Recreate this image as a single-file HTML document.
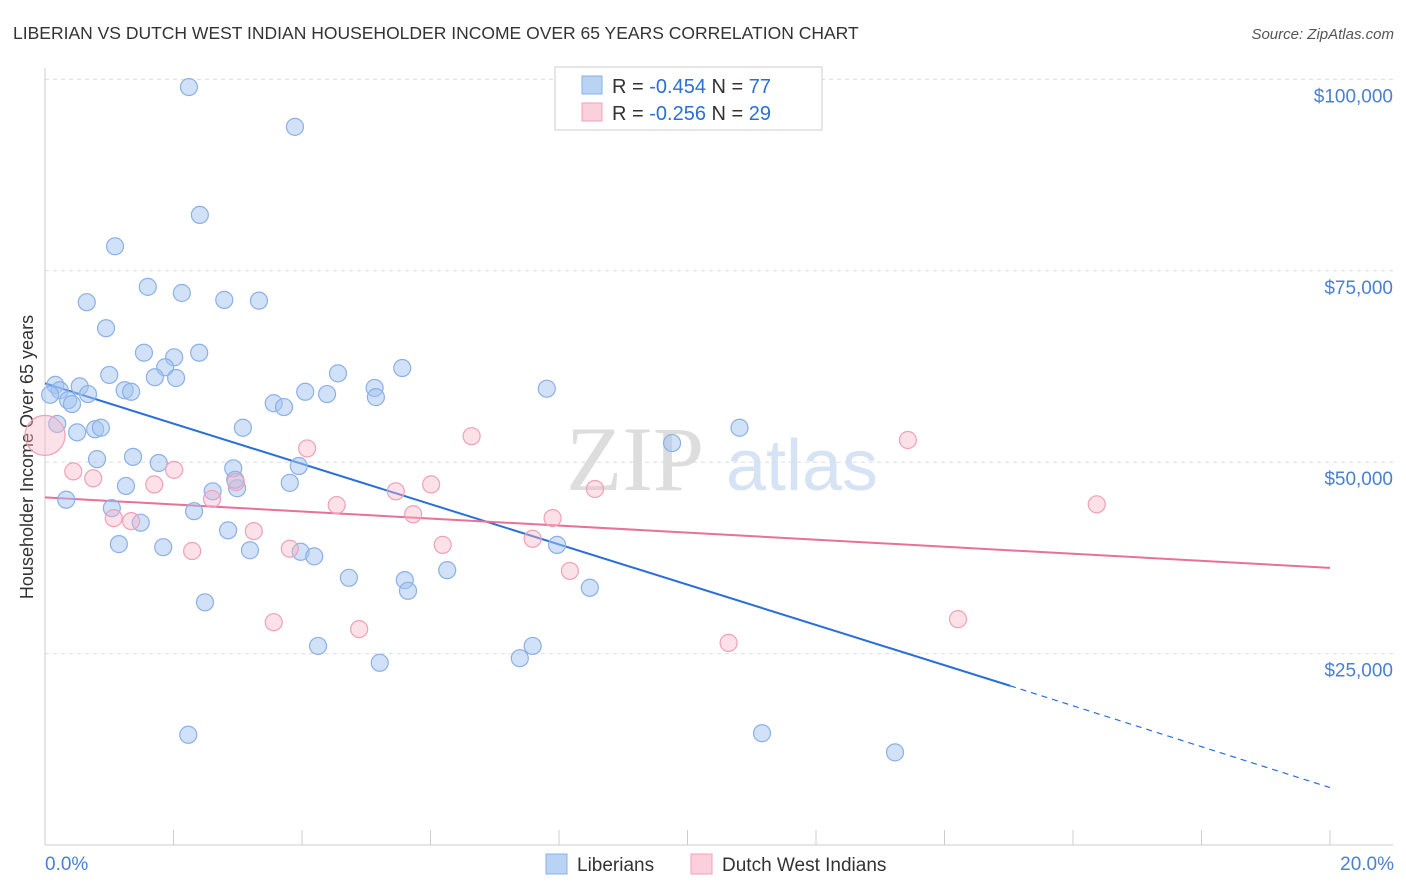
<!DOCTYPE html>
<html><head><meta charset="utf-8"><style>
body{margin:0;background:#fff;font-family:"Liberation Sans",sans-serif;}
svg{display:block}
</style></head><body>
<svg width="1406" height="892" xmlns="http://www.w3.org/2000/svg">
<text x="13" y="39" font-size="17.5" fill="#333">LIBERIAN VS DUTCH WEST INDIAN HOUSEHOLDER INCOME OVER 65 YEARS CORRELATION CHART</text>
<text x="1394" y="39" font-size="15" fill="#555" font-style="italic" text-anchor="end">Source: ZipAtlas.com</text>
<text transform="translate(33,457) rotate(-90)" font-size="18" fill="#333" text-anchor="middle">Householder Income Over 65 years</text>
<g>
<text x="635" y="490" font-size="92" fill="#ddd" font-family="Liberation Serif,serif" text-anchor="middle">ZIP</text>
<text x="802" y="490" font-size="72" fill="#d5e3f5" text-anchor="middle">atlas</text>
</g>
<g id="grid"></g>
<g id="axes"></g>
<g id="trends"></g>
<g id="points"></g>
<g>
<rect x="555" y="67" width="267" height="63" fill="#fff" stroke="#ccc"/>
<rect x="582" y="76" width="20" height="18" fill="#b9d3f5" stroke="#8ab0e8"/>
<rect x="582" y="103" width="20" height="18" fill="#fbd0dd" stroke="#f0a0b8"/>
<text x="612" y="93" font-size="20" fill="#333">R = <tspan fill="#2a6fd6">-0.454</tspan>   N = <tspan fill="#2a6fd6">77</tspan></text>
<text x="612" y="120" font-size="20" fill="#333">R = <tspan fill="#2a6fd6">-0.256</tspan>   N = <tspan fill="#2a6fd6">29</tspan></text>
</g>
<g>
<rect x="546" y="854" width="21" height="20" fill="#b9d3f5" stroke="#8ab0e8"/>
<text x="577" y="871" font-size="19" fill="#333">Liberians</text>
<rect x="691" y="854" width="21" height="20" fill="#fbd0dd" stroke="#f0a0b8"/>
<text x="722" y="871" font-size="19" fill="#333">Dutch West Indians</text>
</g>
</svg>
<script>
const blueX=[2.24,3.89,2.41,1.09,1.60,2.13,2.79,3.33,0.65,0.95,1.54,2.01,2.40,1.87,1.71,2.04,1.00,5.56,4.56,1.24,1.34,5.13,5.15,4.05,4.39,7.81,0.16,0.23,0.54,0.67,0.36,0.42,3.56,3.72,0.50,0.78,0.87,3.08,10.81,9.76,0.81,1.37,1.77,3.95,2.93,1.26,3.81,2.61,2.99,2.96,0.33,1.04,2.32,1.49,2.85,1.15,1.84,3.19,3.98,4.19,7.97,4.73,5.60,6.26,5.65,8.48,2.49,4.25,7.59,7.39,5.21,2.23,11.16,13.23,0.08,0.19];
const blueY=[99.0,93.8,82.3,78.2,72.9,72.1,71.2,71.1,70.9,67.5,64.3,63.7,64.3,62.4,61.1,61.0,61.4,62.3,61.6,59.4,59.2,59.7,58.5,59.2,58.9,59.6,60.1,59.4,59.9,58.9,58.1,57.6,57.7,57.2,53.9,54.3,54.5,54.5,54.5,52.5,50.4,50.7,49.9,49.5,49.2,46.9,47.3,46.2,46.6,47.7,45.1,44.0,43.6,42.1,41.1,39.3,38.9,38.5,38.3,37.7,39.2,34.9,34.6,35.9,33.2,33.6,31.7,26.0,26.0,24.4,23.8,14.4,14.6,12.1,58.8,55.0];
const pinkX=[0.44,0.75,2.01,1.70,2.97,2.60,4.08,4.54,5.46,6.01,6.64,5.73,1.07,1.34,3.25,2.29,3.81,6.19,7.59,7.90,8.56,8.17,3.56,4.89,10.64,13.43,14.21,16.37];
const pinkY=[48.8,47.9,49.0,47.1,47.4,45.2,51.8,44.4,46.2,47.1,53.4,43.2,42.7,42.3,41.0,38.4,38.7,39.2,40.0,42.7,46.5,35.8,29.1,28.2,26.4,52.9,29.5,44.5];
const pinkBigX=[0.0], pinkBigY=[53.5];
const blueTrendX=[0,15.02,20], blueTrendY=[60.3,20.8,7.5];
const pinkTrendX=[0,20], pinkTrendY=[45.4,36.2];
const yTicks=[25,50,75,100];
const yTickLabels=["$25,000","$50,000","$75,000","$100,000"];
const xTickLabels=["0.0%","20.0%"];
const NS="http://www.w3.org/2000/svg";
const sx=v=>45+v/20*1285;
const sy=v=>845-v/25*191.4;
function mk(tag,attrs,parent){const e=document.createElementNS(NS,tag);for(const k in attrs)e.setAttribute(k,attrs[k]);document.getElementById(parent).appendChild(e);return e;}
yTicks.forEach((t,i)=>{
 const g=mk('line',{x1:45,x2:1393,y1:sy(t),y2:sy(t),stroke:'#ddd','stroke-dasharray':'4,4'},'grid');
 
 
 const l=mk('text',{x:1393,y:sy(t)+23,'font-size':19,fill:'#4a80d0','text-anchor':'end'},'grid');
 l.textContent=yTickLabels[i];
 
 
});
const ax=mk('line',{x1:45,x2:1393,y1:845,y2:845,stroke:'#ccc'},'axes');


const ay=mk('line',{x1:45,x2:45,y1:68,y2:845,stroke:'#ccc'},'axes');


for(let i=0;i<=10;i++){
 const t=mk('line',{x1:sx(i*2),x2:sx(i*2),y1:830,y2:845,stroke:'#ccc'},'axes');
 
 
}
const xl0=mk('text',{x:45,y:870,'font-size':19,fill:'#4a80d0'},'axes');
xl0.textContent=xTickLabels[0];


const xl1=mk('text',{x:1394,y:870,'font-size':19,fill:'#4a80d0','text-anchor':'end'},'axes');
xl1.textContent=xTickLabels[1];


blueX.forEach((v,i)=>{
 const c=mk('circle',{cx:sx(v),cy:sy(blueY[i]),r:8.5,fill:'rgba(164,196,240,0.5)',stroke:'#8ab0e8','stroke-width':1.2},'points');
 
 
});
pinkX.forEach((v,i)=>{
 const c=mk('circle',{cx:sx(v),cy:sy(pinkY[i]),r:8.5,fill:'rgba(248,180,200,0.4)',stroke:'#f0a0b8','stroke-width':1.2},'points');
 
 
});
pinkBigX.forEach((v,i)=>{
 const c=mk('circle',{cx:sx(v),cy:sy(pinkBigY[i]),r:20,fill:'rgba(248,180,200,0.4)',stroke:'#f0a0b8','stroke-width':1.2},'points');
 
 
});
const bt=mk('line',{x1:sx(blueTrendX[0]),y1:sy(blueTrendY[0]),x2:sx(blueTrendX[1]),y2:sy(blueTrendY[1]),stroke:'#2a6fd6','stroke-width':2},'trends');


const bd=mk('line',{x1:sx(blueTrendX[1]),y1:sy(blueTrendY[1]),x2:sx(blueTrendX[2]),y2:sy(blueTrendY[2]),stroke:'#2a6fd6','stroke-width':1.2,'stroke-dasharray':'6,5'},'trends');


const pt=mk('line',{x1:sx(pinkTrendX[0]),y1:sy(pinkTrendY[0]),x2:sx(pinkTrendX[1]),y2:sy(pinkTrendY[1]),stroke:'#e8709a','stroke-width':2},'trends');


</script>
</body></html>
